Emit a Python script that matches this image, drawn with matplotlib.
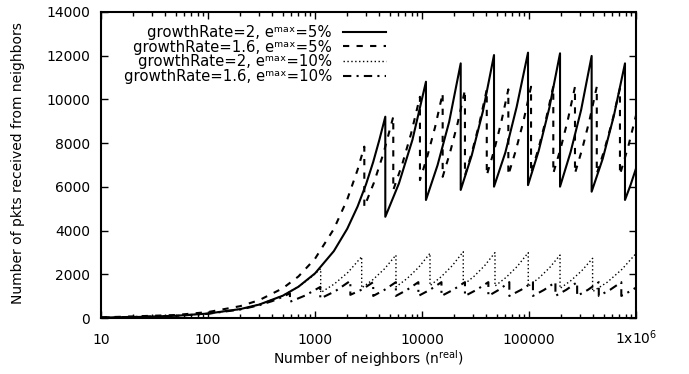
import matplotlib
matplotlib.use("Agg")
import matplotlib.pyplot as plt
from matplotlib.ticker import FixedLocator, NullFormatter, LogLocator

# ---- data ----
x_a = [10, 20, 50, 100, 200, 300, 500, 700, 1000, 1500, 2000, 2500, 3000, 3500, 4000, 4540,
       4540, 6080, 8140, 10890,
       10890, 13970, 17930, 23000,
       23000, 29200, 37100, 47100,
       47100, 60100, 76700, 97900,
       97900, 123200, 155000, 195000,
       195000, 244700, 307000, 385000,
       385000, 489000, 621000, 789000,
       789000, 890000, 1000000]
y_a = [20, 41, 102, 204, 408, 612, 1020, 1430, 2040, 3060, 4080, 5100, 6120, 7140, 8160, 9210,
       4630, 6150, 8150, 10810,
       5400, 6990, 8970, 11650,
       5860, 7450, 9460, 12030,
       6010, 7570, 9660, 12140,
       6080, 7650, 9620, 12110,
       6010, 7590, 9520, 11990,
       5780, 7290, 9250, 11650,
       5400, 6090, 6840]

x_b = [10, 50, 100, 200, 300, 500, 700, 1000, 1500, 2000, 2500, 2890,
       2890, 3560, 4380, 5390,
       5390, 6530, 7900, 9570,
       9570, 11260, 13260, 15600,
       15600, 18300, 21480, 25200,
       25200, 29470, 34470, 40300,
       40300, 47050, 54920, 64100,
       64100, 75440, 88800, 104500,
       104500, 122600, 143800, 168700,
       168700, 197100, 230300, 269000,
       269000, 314500, 367700, 430000,
       430000, 507800, 599600, 708000,
       708000, 850000, 1000000]
y_b = [27, 136, 271, 542, 813, 1360, 1900, 2710, 4070, 5420, 6780, 7840,
       5090, 6200, 7560, 9210,
       5860, 7030, 8430, 10120,
       6310, 7430, 8740, 10280,
       6460, 7580, 8890, 10430,
       6520, 7630, 8930, 10450,
       6530, 7640, 8940, 10460,
       6540, 7680, 9010, 10580,
       6620, 7750, 9070, 10600,
       6620, 7740, 9050, 10580,
       6620, 7740, 9050, 10580,
       6600, 7710, 9000, 10500,
       6560, 7880, 9270]

x_c = [10, 20, 50, 100, 200, 300, 500, 700, 900, 1130,
       1130, 1516, 2035, 2730,
       2730, 3490, 4470, 5710,
       5710, 7290, 9300, 11880,
       11880, 15080, 19140, 24300,
       24300, 30510, 38310, 48100,
       48100, 61070, 77520, 98400,
       98400, 123600, 155300, 195000,
       195000, 246300, 311100, 393000,
       393000, 540000, 740000, 1000000]
y_c = [20, 41, 102, 204, 408, 612, 1020, 1430, 1830, 2250,
       1160, 1557, 2090, 2805,
       1377, 1760, 2253, 2880,
       1422, 1815, 2316, 2960,
       1483, 1882, 2389, 3033,
       1511, 1898, 2383, 2990,
       1462, 1857, 2357, 2990,
       1453, 1826, 2294, 2880,
       1355, 1711, 2161, 2730,
       1207, 1640, 2230, 2950]

x_d = [10, 50, 100, 200, 300, 400, 500, 583,
       583, 810, 1120,
       1120, 1550, 2140,
       2140, 2740, 3500,
       3500, 4470, 5700,
       5700, 7260, 9250,
       9250, 11860, 15200,
       15200, 19570, 25200,
       25200, 32400, 41700,
       41700, 52300, 65500,
       65500, 84500, 108900,
       108900, 138700, 176600,
       176600, 223000, 281800,
       281800, 355700, 449000,
       449000, 572000, 729000,
       729000, 854000, 1000000]
y_d = [19, 97, 194, 388, 582, 776, 970, 1130,
       740, 1030, 1420,
       890, 1230, 1700,
       1060, 1300, 1640,
       1010, 1290, 1640,
       1010, 1290, 1640,
       1010, 1290, 1640,
       1010, 1290, 1640,
       1010, 1290, 1640,
       1010, 1290, 1640,
       1010, 1290, 1640,
       1010, 1290, 1640,
       1010, 1290, 1640,
       1010, 1290, 1640,
       1010, 1290, 1640,
       1010, 1190, 1390]

labels = ["growthRate=2, e\u1d50\u1d43\u02e3=5%",
          "growthRate=1.6, e\u1d50\u1d43\u02e3=5%",
          "growthRate=2, e\u1d50\u1d43\u02e3=10%",
          "growthRate=1.6, e\u1d50\u1d43\u02e3=10%"]

xticks = [10, 100, 1000, 10000, 100000, 1000000]
xticklabels = ["10", "100", "1000", "10000", "100000", r"1x10$^{6}$"]
yticks = [0, 2000, 4000, 6000, 8000, 10000, 12000, 14000]

plt.rcParams['font.family'] = ['DejaVu Sans']
plt.rcParams['mathtext.fontset'] = 'dejavusans'

fig = plt.figure(figsize=(6.89, 3.74), dpi=100)
ax = fig.add_axes([101/689, 56/374, 535/689, 306/374])

ax.plot(x_a, y_a, color='black', lw=1.5, ls='-', label=labels[0])
ax.plot(x_b, y_b, color='black', lw=1.5, ls=(0, (3, 3.5)), label=labels[1])
ax.plot(x_c, y_c, color='black', lw=1.0, ls=(0, (1, 1.8)), label=labels[2])
ax.plot(x_d, y_d, color='black', lw=1.5, ls=(0, (4, 2.5, 1, 2.5)), label=labels[3])

ax.set_xscale('log')
ax.set_xlim(10, 1000000)
ax.set_ylim(0, 14000)
ax.xaxis.set_major_locator(FixedLocator(xticks))
ax.set_xticklabels(xticklabels)
ax.xaxis.set_minor_locator(LogLocator(base=10, subs=range(2, 10)))
ax.xaxis.set_minor_formatter(NullFormatter())
ax.set_yticks(yticks)
ax.set_yticklabels([str(v) for v in yticks])

ax.tick_params(which='major', direction='in', length=5, width=1, top=True, right=True,
               labelsize=10, colors='black')
ax.tick_params(axis='y', which='major', pad=8)
ax.tick_params(axis='x', which='major', pad=19)
ax.tick_params(which='minor', direction='in', length=3, width=1, top=True, right=True)
for t in ax.get_xticklabels():
    t.set_verticalalignment('baseline')
for s in ax.spines.values():
    s.set_linewidth(1.5)

ax.set_xlabel(r"Number of neighbors (n$^{\mathrm{real}}$)", fontsize=10)
ax.xaxis.set_label_coords(0.5, -0.098)
ax.set_ylabel("Number of pkts received from neighbors", fontsize=10)
ax.yaxis.set_label_coords(-0.142, 0.505)

leg = ax.legend(loc='upper right', bbox_to_anchor=(0.533, 0.957), frameon=False,
                markerfirst=False, handlelength=2.9, handletextpad=0.72,
                labelspacing=-0.03, borderpad=0, borderaxespad=0, fontsize=10.75)

fig.savefig("out.png", dpi=100)
